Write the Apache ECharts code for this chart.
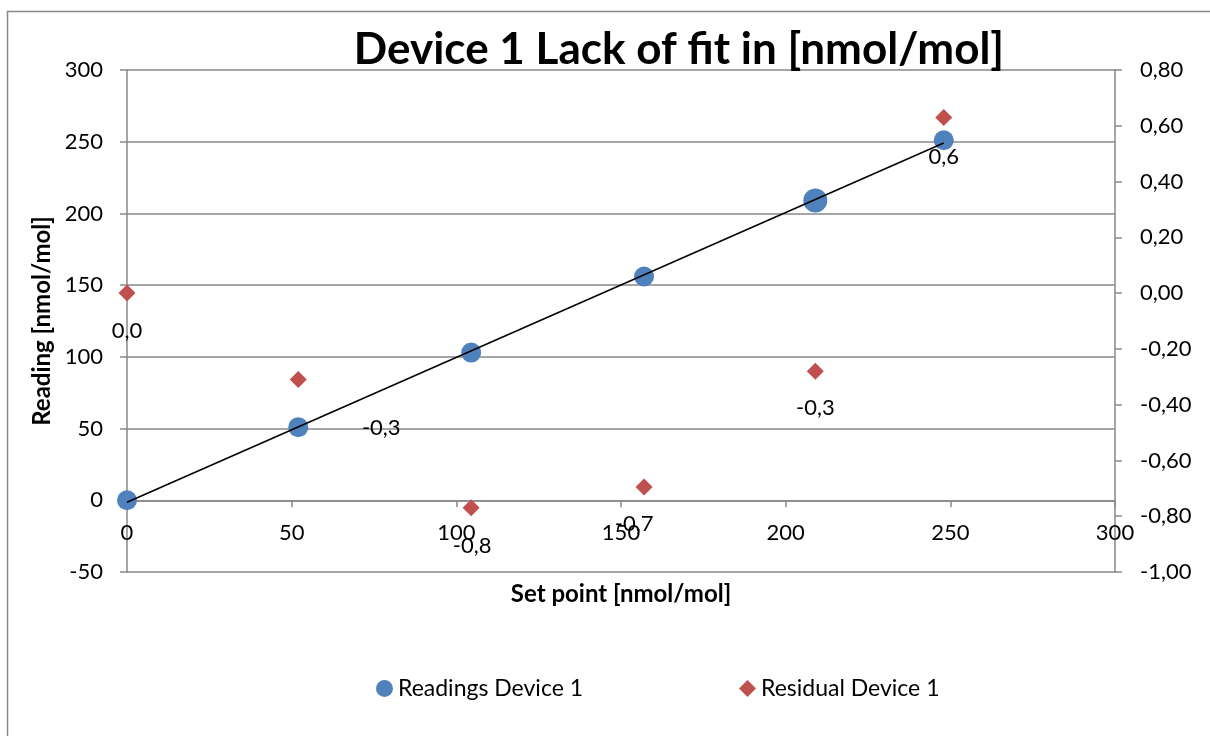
<!DOCTYPE html>
<html>
<head>
<meta charset="utf-8">
<script src="https://cdn.jsdelivr.net/npm/echarts@6/dist/echarts.min.js"></script>
<style>html,body{margin:0;padding:0;background:#fff}#c{width:1210px;height:736px}</style>
</head>
<body>
<div id="c"></div>
<script>
const setPoints = [0, 52, 104.5, 157, 209, 248];
const readings = [0, 51, 103, 156, 209, 251];
const residuals = [0.00, -0.31, -0.77, -0.695, -0.28, 0.63];
const readingSizes = [20, 20, 20, 20, 24, 20];
const labelOffsets = [[0, 38], [83, 48], [1, 38], [-10, 37], [0, 37], [0, 39]];
const xTicks = {min: 0, max: 300, interval: 50};
const yLeftTicks = {min: -50, max: 300, interval: 50};
const yRightTicks = {min: -1, max: 0.8, interval: 0.2};

// linear trendline from readings (least squares)
const n = setPoints.length;
const mx = setPoints.reduce((a, b) => a + b, 0) / n;
const my = readings.reduce((a, b) => a + b, 0) / n;
let sxy = 0, sxx = 0;
for (let i = 0; i < n; i++) { sxy += (setPoints[i] - mx) * (readings[i] - my); sxx += (setPoints[i] - mx) ** 2; }
const slope = sxy / sxx, intercept = my - slope * mx;
const xs0 = setPoints[0], xs1 = setPoints[n - 1];
const trend = [[xs0, intercept + slope * xs0], [xs1, intercept + slope * xs1]];

const FONT = 'Lato';
const grey = '#898989';
const G = {left: 127, right: 95, top: 70, bottom: 164};
const gridH = 736 - G.top - G.bottom;
// place the x axis at y = 0 of the left axis
const xAxisOffset = -gridH * (0 - yLeftTicks.min) / (yLeftTicks.max - yLeftTicks.min);

const chart = echarts.init(document.getElementById('c'));
chart.setOption({
  animation: false,
  textStyle: {fontFamily: FONT},
  graphic: [{type: 'rect', shape: {x: 7.5, y: 11.5, width: 1210, height: 740}, style: {fill: 'none', stroke: grey, lineWidth: 1.5}, silent: true, z: -10}],
  title: {text: 'Device 1 Lack of fit in [nmol/mol]', left: 674, textAlign: 'center', top: 23,
    textStyle: {fontFamily: FONT, fontWeight: 'bold', fontSize: 44, color: '#000'}},
  grid: Object.assign({containLabel: false}, G),
  legend: [
    {data: [{name: 'Readings Device 1', icon: 'circle'}], left: 371, top: 672, itemWidth: 17, itemHeight: 17,
      textStyle: {fontFamily: FONT, fontSize: 23, color: '#000'}},
    {data: [{name: 'Residual Device 1', icon: 'diamond'}], left: 734, top: 672, itemWidth: 17, itemHeight: 17,
      textStyle: {fontFamily: FONT, fontSize: 23, color: '#000'}}
  ],
  xAxis: {type: 'value', position: 'bottom', offset: xAxisOffset,
    min: xTicks.min, max: xTicks.max, interval: xTicks.interval,
    name: 'Set point [nmol/mol]', nameLocation: 'middle', nameGap: 82,
    nameTextStyle: {fontFamily: FONT, fontWeight: 'bold', fontSize: 24, color: '#000'},
    axisLine: {onZero: false, lineStyle: {color: grey, width: 1.5}},
    axisTick: {show: true, length: 7, lineStyle: {color: grey, width: 1.5}},
    axisLabel: {margin: 22, fontSize: 22, color: '#000', fontFamily: FONT},
    splitLine: {show: false}},
  yAxis: [
    {type: 'value', position: 'left', min: yLeftTicks.min, max: yLeftTicks.max, interval: yLeftTicks.interval,
      name: 'Reading [nmol/mol]', nameLocation: 'middle', nameGap: 72, nameRotate: 90,
      nameTextStyle: {fontFamily: FONT, fontWeight: 'bold', fontSize: 24, color: '#000'},
      axisLine: {show: true, onZero: false, lineStyle: {color: grey, width: 1.5}},
      axisTick: {show: true, length: 7, lineStyle: {color: grey, width: 1.5}},
      axisLabel: {margin: 24, fontSize: 22, color: '#000', fontFamily: FONT},
      splitLine: {show: true, lineStyle: {color: grey, width: 1.5}}},
    {type: 'value', position: 'right', min: yRightTicks.min, max: yRightTicks.max, interval: yRightTicks.interval,
      axisLine: {show: true, onZero: false, lineStyle: {color: grey, width: 1.5}},
      axisTick: {show: true, length: 7, lineStyle: {color: grey, width: 1.5}},
      axisLabel: {margin: 25, fontSize: 22, color: '#000', fontFamily: FONT,
        formatter: v => v.toFixed(2).replace('.', ',')},
      splitLine: {show: false}}
  ],
  series: [
    {name: 'Readings Device 1', type: 'scatter', yAxisIndex: 0, z: 2,
      symbol: 'circle', symbolSize: (v, p) => readingSizes[p.dataIndex],
      itemStyle: {color: '#4F81BD', opacity: 1},
      data: setPoints.map((x, i) => [x, readings[i]])},
    {name: 'trend', type: 'line', yAxisIndex: 0, z: 3, silent: true, symbol: 'none',
      lineStyle: {color: '#000', width: 1.5}, data: trend},
    {name: 'Residual Device 1', type: 'scatter', yAxisIndex: 1, z: 4,
      symbol: 'diamond', symbolSize: 17,
      itemStyle: {color: '#C0504D', opacity: 1},
      data: setPoints.map((x, i) => ({value: [x, residuals[i]],
        label: {show: true, position: 'inside', offset: labelOffsets[i],
          formatter: residuals[i].toFixed(1).replace('.', ',').replace(/^-0,0$/, '0,0'),
          fontSize: 22, color: '#000', fontFamily: FONT}}))}
  ]
});
</script>
</body>
</html>
